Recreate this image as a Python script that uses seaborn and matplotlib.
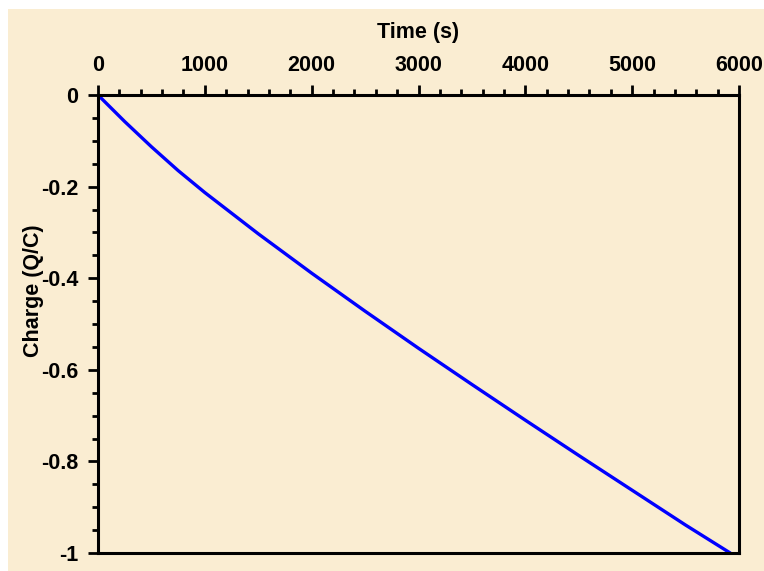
import seaborn as sns
import matplotlib.pyplot as plt
import matplotlib.ticker as mticker
from matplotlib.patches import Rectangle
import pandas as pd

# Data
time_s = [0, 250, 500, 750, 1000, 1500, 2000, 2500, 3000, 3500, 4000, 4500, 5000, 5500, 5918]
charge = [0, -0.058, -0.113, -0.165, -0.213, -0.303, -0.389, -0.472, -0.553, -0.632,
          -0.710, -0.787, -0.863, -0.939, -1.0]
x_ticks = [0, 1000, 2000, 3000, 4000, 5000, 6000]
y_ticks = [0, -0.2, -0.4, -0.6, -0.8, -1]

df = pd.DataFrame({'Time': time_s, 'Charge': charge})

sns.set_style('ticks')
plt.rcParams['font.family'] = ['Liberation Sans', 'DejaVu Sans']
plt.rcParams['axes.unicode_minus'] = False
plt.rcParams['text.color'] = 'black'
plt.rcParams['axes.labelcolor'] = 'black'
plt.rcParams['xtick.color'] = 'black'
plt.rcParams['ytick.color'] = 'black'

paper = '#FAEDD2'
fig = plt.figure(figsize=(7.64, 5.71), dpi=100, facecolor='white')
# parchment panel behind everything (white margin at top and left)
fig.patches.append(Rectangle((8 / 764, 0), 1, 1 - 9 / 571, transform=fig.transFigure,
                             facecolor=paper, edgecolor='none', zorder=-10))
ax = fig.add_axes([98 / 764, 1 - 553 / 571, (739 - 98) / 764, (553 - 95) / 571])
ax.set_facecolor('none')

sns.lineplot(x='Time', y='Charge', data=df, ax=ax, color='#0000FF', linewidth=2.4)

ax.set_xlim(0, 6000)
ax.set_ylim(-1, 0)
ax.xaxis.tick_top()
ax.xaxis.set_label_position('top')
ax.set_xticks(x_ticks)
ax.set_yticks(y_ticks)
ax.xaxis.set_minor_locator(mticker.MultipleLocator(200))
ax.yaxis.set_minor_locator(mticker.MultipleLocator(0.05))
ax.yaxis.set_major_formatter(mticker.FuncFormatter(lambda v, p: '{:g}'.format(round(v, 2))))

for s in ax.spines.values():
    s.set_visible(True)
    s.set_linewidth(2.2)
    s.set_color('black')

ax.tick_params(which='major', length=7, width=2, color='black', labelcolor='black',
               labelsize=15.5, pad=7)
ax.tick_params(which='minor', length=4, width=2, color='black')
ax.tick_params(axis='x', which='both', top=True, bottom=False)
ax.tick_params(axis='y', which='both', left=True, right=False)
for lab in ax.get_xticklabels() + ax.get_yticklabels():
    lab.set_fontweight('bold')

ax.set_xlabel('Time (s)', fontsize=15.5, fontweight='bold', labelpad=12, color='black')
ax.set_ylabel('Charge (Q/C)', fontsize=15.5, fontweight='bold', color='black')
ax.yaxis.set_label_coords(-0.084, 0.572)

fig.savefig('out.png', dpi=100, facecolor='white')
